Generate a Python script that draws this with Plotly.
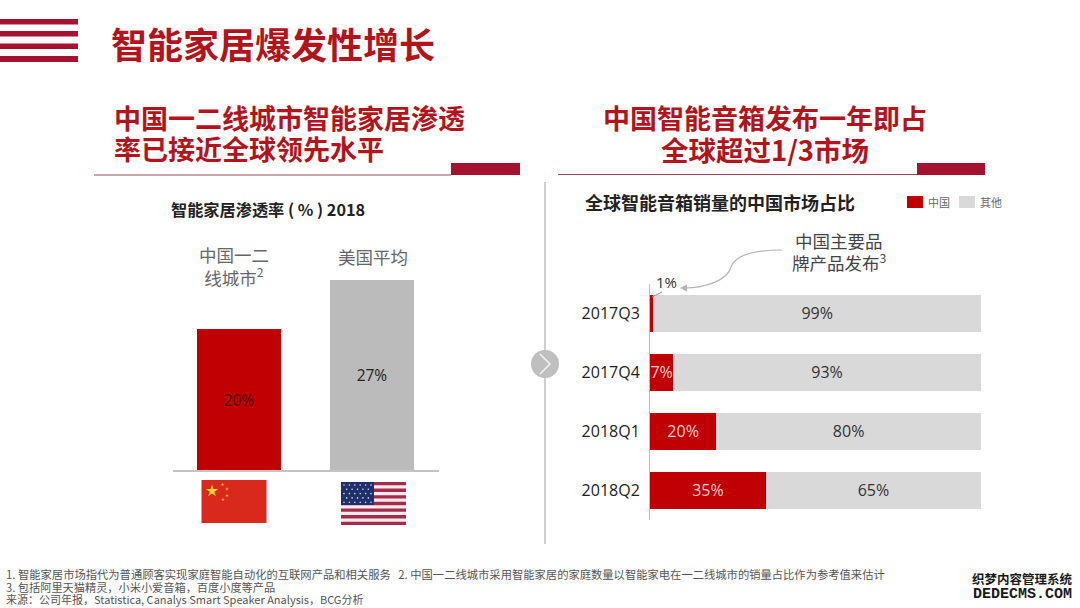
import math
import plotly.graph_objects as go

# ---------- data ----------
pen_categories = ["中国一二线城市", "美国平均"]
pen_labels = ["中国一二<br>线城市<sup>2</sup>", "美国平均"]
pen_values = [20, 27]
quarters = ["2017Q3", "2017Q4", "2018Q1", "2018Q2"]
china_share = [1, 7, 20, 35]
other_share = [99, 93, 80, 65]

CJK = "Noto Sans CJK SC"
LAT = "Open Sans"
RED = "#C00000"
TITLE_RED = "#B3141C"
DARK_RED = "#A5122F"
W, H = 1080, 608


def fx(x):
    return x / W


def fy(y):
    return 1 - y / H


fig = go.Figure()

# left chart
fig.add_trace(go.Bar(
    x=pen_categories, y=pen_values, xaxis="x", yaxis="y",
    marker=dict(color=[RED, "#BBBBBB"], line=dict(width=0)),
    text=[f"{v}%" for v in pen_values], textposition="inside",
    insidetextanchor="middle", textangle=0, constraintext="none",
    textfont=dict(family=LAT, size=15.5, color=["#4A0505", "#222222"]),
    hoverinfo="skip", showlegend=False,
))
# right chart
fig.add_trace(go.Bar(
    y=quarters, x=china_share, orientation="h", xaxis="x2", yaxis="y2", name="中国",
    marker=dict(color=RED, line=dict(width=0)),
    text=[f"{v}%" if v > 1 else " " for v in china_share], textposition="inside",
    insidetextanchor="middle", textangle=0, constraintext="none", cliponaxis=False,
    textfont=dict(family=LAT, size=16, color="#F7CFCF"),
    hoverinfo="skip", showlegend=False,
))
fig.add_trace(go.Bar(
    y=quarters, x=other_share, orientation="h", xaxis="x2", yaxis="y2", name="其他",
    marker=dict(color="#D9D9D9", line=dict(width=0)),
    text=[f"{v}%" for v in other_share], textposition="inside",
    insidetextanchor="middle", textangle=0, constraintext="none",
    textfont=dict(family=LAT, size=16, color="#333333"),
    hoverinfo="skip", showlegend=False,
))

shapes = []


def rect(x0, y0, x1, y1, color, layer="above"):
    shapes.append(dict(type="rect", xref="paper", yref="paper", x0=fx(x0), x1=fx(x1),
                       y0=fy(y1), y1=fy(y0), fillcolor=color, line=dict(width=0), layer=layer))


def hline(x0, x1, y, color, width=1):
    shapes.append(dict(type="line", xref="paper", yref="paper", x0=fx(x0), x1=fx(x1),
                       y0=fy(y), y1=fy(y), line=dict(color=color, width=width)))


def vline(x, y0, y1, color, width=1):
    shapes.append(dict(type="line", xref="paper", yref="paper", x0=fx(x), x1=fx(x),
                       y0=fy(y0), y1=fy(y1), line=dict(color=color, width=width)))


def to_path(points, close=True):
    p = "M" + " L".join(f"{fx(a):.5f},{fy(b):.5f}" for a, b in points)
    return p + (" Z" if close else "")


def star(cx, cy, r, color):
    pts = []
    for i in range(10):
        rr = r if i % 2 == 0 else r * 0.382
        ang = -math.pi / 2 + i * math.pi / 5
        pts.append((cx + rr * math.cos(ang), cy + rr * math.sin(ang)))
    shapes.append(dict(type="path", xref="paper", yref="paper", path=to_path(pts),
                       fillcolor=color, line=dict(width=0)))


# header stripes
for y0, y1 in [(19, 24.5), (31, 36.5), (43.5, 49), (56, 62)]:
    rect(0, y0, 78, y1, DARK_RED)

# section rules
hline(94, 451, 175, "#9A4A55", 1)
rect(451, 163, 520, 175, DARK_RED)
hline(558, 917, 174.5, "#9A4A55", 1)
rect(917, 163, 985, 175, DARK_RED)

# separator and chevron
vline(545, 182, 544, "#CFCFCF", 2)
shapes.append(dict(type="circle", xref="paper", yref="paper", x0=fx(531), x1=fx(559),
                   y0=fy(378), y1=fy(350), fillcolor="#BFBFBF", line=dict(width=0)))
shapes.append(dict(type="path", xref="paper", yref="paper",
                   path=to_path([(540, 354), (550, 364), (540, 374)], close=False),
                   fillcolor="rgba(0,0,0,0)", line=dict(color="#F2F2F2", width=1.5)))

# legend swatches
rect(907, 196, 923, 208, RED)
rect(959, 196, 975, 208, "#D9D9D9")

# China flag
rect(201.5, 480, 266.5, 523, "#D9291C")
star(212, 491, 6.5, "#F6D32D")
for cx, cy in [(222.5, 484.5), (227, 489), (227, 495.5), (223, 499.5)]:
    star(cx, cy, 2, "#F0B030")

# US flag
stripe_h = 43 / 13
rect(341, 482, 406, 525, "#FBE9EC")
for i in range(0, 13, 2):
    rect(341, 482 + i * stripe_h, 406, 482 + (i + 1) * stripe_h, "#A12C4C")
rect(341, 482, 374, 505, "#1F2F6B")
for row in range(5):
    for col in range(6):
        cx = 344 + col * 5.4 + (2.7 if row % 2 else 0)
        cy = 485 + row * 4.3
        if cx < 373:
            shapes.append(dict(type="circle", xref="paper", yref="paper",
                               x0=fx(cx - 0.8), x1=fx(cx + 0.8), y0=fy(cy + 0.8), y1=fy(cy - 0.8),
                               fillcolor="#DDE2F0", line=dict(width=0)))

# leader of the 1% label
shapes.append(dict(type="path", xref="paper", yref="paper",
                   path=to_path([(652, 297), (662, 292)], close=False),
                   fillcolor="rgba(0,0,0,0)", line=dict(color="#8C8C8C", width=1)))
# curved arrow
shapes.append(dict(type="path", xref="paper", yref="paper",
                   path=(f"M{fx(782):.5f},{fy(250):.5f} "
                         f"C{fx(752):.5f},{fy(250):.5f} {fx(735):.5f},{fy(255):.5f} {fx(731):.5f},{fy(267):.5f} "
                         f"C{fx(728):.5f},{fy(280):.5f} {fx(705):.5f},{fy(288):.5f} {fx(685):.5f},{fy(288):.5f}"),
                   fillcolor="rgba(0,0,0,0)", line=dict(color="#B5B5B5", width=1.2)))
shapes.append(dict(type="path", xref="paper", yref="paper",
                   path=to_path([(680, 288), (687, 284.5), (687, 291.5)]),
                   fillcolor="#B5B5B5", line=dict(width=0)))

annotations = []


def note(text, x, y, size, color="#333333", family=CJK, bold=False, anchor="center"):
    annotations.append(dict(
        text=text, xref="paper", yref="paper", x=fx(x), y=fy(y), xanchor=anchor, yanchor="middle",
        showarrow=False, align=anchor if anchor != "center" else "center",
        font=dict(family=family, size=size, color=color, weight=700 if bold else 400),
    ))


note("智能家居爆发性增长", 109, 43, 36, TITLE_RED, bold=True, anchor="left")
note("中国一二线城市智能家居渗透", 112, 117, 27, TITLE_RED, bold=True, anchor="left")
note("率已接近全球领先水平", 112, 149, 27, TITLE_RED, bold=True, anchor="left")
note("中国智能音箱发布一年即占", 765, 117, 27, TITLE_RED, bold=True)
note("全球超过1/3市场", 765, 149, 27.5, TITLE_RED, bold=True)
note("智能家居渗透率 ( % ) 2018", 267.5, 209, 16.2, "#222222", bold=True)
note("全球智能音箱销量的中国市场占比", 720, 202, 18, "#222222", bold=True)
note("中国", 939, 202, 11, "#666666")
note("其他", 991, 202, 11, "#666666")
note("中国主要品", 839, 241, 17.5, "#444444")
note("牌产品发布<sup>3</sup>", 839, 262, 17.5, "#444444")

# category captions above the left bars (data-anchored)
annotations.append(dict(
    text=pen_labels[0], xref="x", x=pen_categories[0], xshift=-5, yref="paper", y=fy(266),
    xanchor="center", yanchor="middle", showarrow=False, align="center",
    font=dict(family=CJK, size=17.5, color="#666666")))
annotations.append(dict(
    text=pen_labels[1], xref="x", x=pen_categories[1], xshift=1, yref="paper", y=fy(256),
    xanchor="center", yanchor="middle", showarrow=False, align="center",
    font=dict(family=CJK, size=17.5, color="#666666")))

# 1% label
annotations.append(dict(
    text=f"{china_share[0]}%", xref="x2", x=china_share[0], xshift=1, yref="paper", y=fy(282),
    xanchor="left", yanchor="middle", showarrow=False,
    font=dict(family=LAT, size=15, color="#333333")))

# footnotes
note("1. 智能家居市场指代为普通顾客实现家庭智能自动化的互联网产品和相关服务   "
     "2. 中国一二线城市采用智能家居的家庭数量以智能家电在一二线城市的销量占比作为参考值来估计",
     4, 574, 11.3, "#555555", anchor="left")
note("3. 包括阿里天猫精灵，小米小爱音箱，百度小度等产品", 4, 587, 11.2, "#555555", anchor="left")
note("来源：公司年报，Statistica, Canalys Smart Speaker Analysis，BCG分析", 4, 599, 11, "#555555", anchor="left")

# watermark
note("织梦内容管理系统", 1022, 578, 12.5, "#1A1A1A", bold=True)
note("DEDECMS.COM", 1022, 594, 15, "#1A1A1A", family="Liberation Mono", bold=True)

fig.update_layout(
    width=W, height=H, autosize=False,
    margin=dict(l=0, r=0, t=0, b=0, pad=0),
    paper_bgcolor="white", plot_bgcolor="rgba(0,0,0,0)",
    barmode="stack", bargap=0.373, showlegend=False,
    shapes=shapes, annotations=annotations,
    xaxis=dict(domain=[fx(172.5), fx(438.5)], anchor="y", type="category",
               categoryorder="array", categoryarray=pen_categories, range=[-0.5, 1.5],
               showticklabels=False, ticks="", showgrid=False, zeroline=False,
               showline=True, linecolor="#C4C4C4", linewidth=2),
    yaxis=dict(domain=[fy(470), fy(280)], anchor="x", range=[0, 27], visible=False),
    xaxis2=dict(domain=[fx(650), fx(981)], anchor="y2", range=[0, 100], visible=False),
    yaxis2=dict(domain=[fy(519.5), fy(283.5)], anchor="x2", type="category",
                categoryorder="array", categoryarray=quarters, range=[3.5, -0.5],
                showgrid=False, zeroline=False, showline=True, linecolor="#BDBDBD", linewidth=1,
                ticks="outside", ticklen=6, tickcolor="rgba(0,0,0,0)",
                tickfont=dict(family=LAT, size=16, color="#222222")),
)

fig.write_html("out.html", config=dict(displayModeBar=False),
               post_script="document.body.style.margin='0';document.body.style.overflow='hidden';")
